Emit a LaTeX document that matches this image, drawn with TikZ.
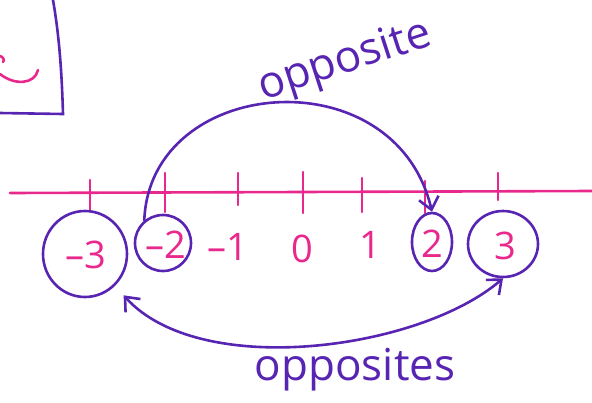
\documentclass[tikz,border=0pt]{standalone}
\usepackage{fontspec}
\setmainfont{Open Sans}
\usetikzlibrary{arrows.meta,shapes.geometric}
\definecolor{pinkink}{RGB}{232,40,140}
\definecolor{purpink}{RGB}{88,36,178}
\tikzset{
  pinkline/.style={draw=pinkink,line width=2.6pt,line cap=round},
  purline/.style={draw=purpink,line width=2.6pt,line cap=round},
  numlab/.style={text=pinkink,font=\fontsize{38}{38}\selectfont,inner sep=0pt},
  ring/.style={ellipse,draw=purpink,line width=2.6pt,inner sep=0pt},
  word/.style={text=purpink,font=\fontsize{44}{44}\selectfont,inner sep=0pt},
  barb/.style={-{Straight Barb[length=12pt,width=20pt,line width=2.6pt]}},
  dbarb/.style={{Straight Barb[length=12pt,width=20pt,line width=2.6pt]}-{Straight Barb[length=12pt,width=20pt,line width=2.6pt]}}
}
\begin{document}
\begin{tikzpicture}[x=1pt,y=-1pt]
\useasboundingbox (0,0) rectangle (592,402);
% top-left box fragment
\draw[purline] (53,0) .. controls (60,40) and (62,80) .. (63,114) -- (0,113);
\draw[pinkline] (0,74) .. controls (15,86) and (35,84) .. (38,70);
\draw[pinkline] (0,56) .. controls (3,57) and (5,60) .. (3,62);
% number line
\coordinate (L) at (10,193);
\coordinate (R) at (592,191);
\draw[pinkline] (L) -- (R);
\foreach \x/\a/\b in {90/180/210,165/173/212,238/173/205,303/172/213,362/178/212,425/181/213,498/173/200}
  \draw[pinkline] (\x,\a) -- (\x,\b);
% labels
\node[numlab] (nm3) at (86,255) {–3};
\node[numlab] (nm2) at (166,245) {–2};
\node[numlab] (nm1) at (228,247) {–1};
\node[numlab] (n0) at (302,249) {0};
\node[numlab] (n1) at (370,245) {1};
\node[numlab] (n2) at (432,244) {2};
\node[numlab] (n3) at (505,246) {3};
% rings
\node[ring,minimum width=84pt,minimum height=86pt] (cm3) at (85,254) {};
\node[ring,minimum width=56pt,minimum height=56pt] (cm2) at (163,243) {};
\node[ring,minimum width=40pt,minimum height=58pt] (c2) at (432,242) {};
\node[ring,minimum width=70pt,minimum height=66pt] (c3) at (503,244) {};
% top arc
\draw[purline,barb] (cm2.north west) ++(2,-2) coordinate (ts)
  .. controls (150,75) and (395,55) .. (c2.north);
% bottom arc
\draw[purline,dbarb] (cm3.south east) ++(8,10) coordinate (bs)
  .. controls (200,380) and (420,350) .. (c3.south);
% words
\node[word,rotate=18] (w1) at (345,62) {opposite};
\node[word] (w2) at (355,370) {opposites};
\end{tikzpicture}
\end{document}
